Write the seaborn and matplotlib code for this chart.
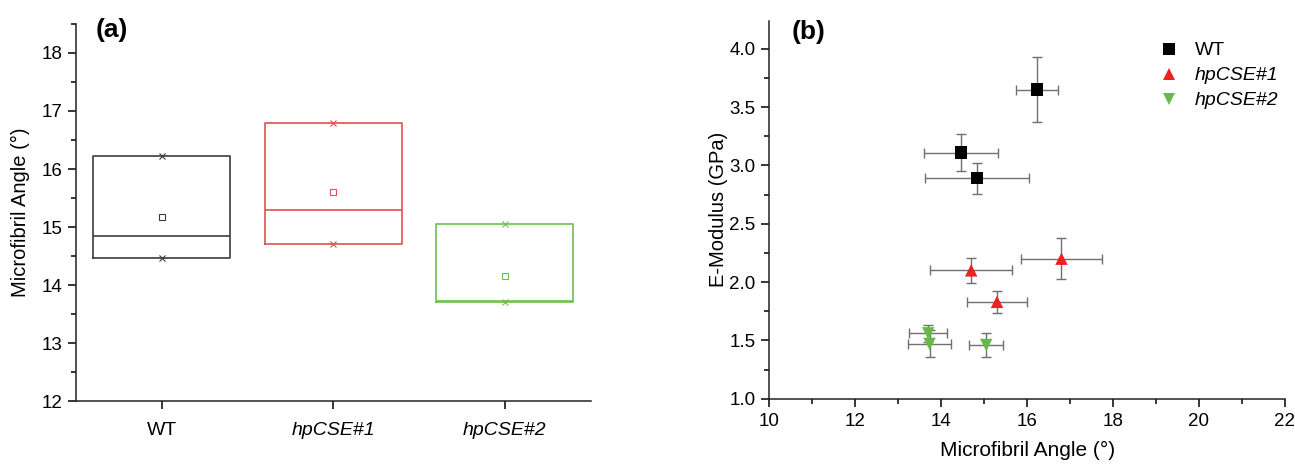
import numpy as np
import pandas as pd
import matplotlib
matplotlib.use("Agg")
import matplotlib.pyplot as plt
import seaborn as sns
from matplotlib.ticker import MultipleLocator

# ---------------- data ----------------
groups = ["WT", "hpCSE#1", "hpCSE#2"]

mfa_wt = [16.23, 14.46, 14.84]
mfa_hp1 = [14.70, 16.80, 15.30]
mfa_hp2 = [13.70, 13.73, 15.05]

mfa_err_wt = [0.49, 0.855, 1.21]
mfa_err_hp1 = [0.95, 0.935, 0.69]
mfa_err_hp2 = [0.44, 0.49, 0.40]

emod_wt = [3.65, 3.11, 2.89]
emod_hp1 = [2.10, 2.20, 1.83]
emod_hp2 = [1.56, 1.47, 1.46]

emod_err_wt = [0.28, 0.157, 0.134]
emod_err_hp1 = [0.108, 0.177, 0.093]
emod_err_hp2 = [0.07, 0.115, 0.10]

box_colors = ["#3c3c3c", "#e05050", "#6cc04a"]
marker_colors = ["#000000", "#ee2020", "#66bb44"]
err_color = "#707070"

sns.set_theme(style="ticks")
plt.rcParams["font.family"] = ["Liberation Sans", "DejaVu Sans"]
plt.rcParams["axes.linewidth"] = 1.1
for k in ["text.color", "axes.labelcolor", "xtick.color", "ytick.color"]:
    plt.rcParams[k] = "black"
plt.rcParams["axes.edgecolor"] = "#222222"

fig = plt.figure(figsize=(12.95, 4.65), dpi=100)
ax1 = fig.add_axes([0.0587, 0.1376, 0.3974, 0.8108])
ax2 = fig.add_axes([0.5940, 0.1426, 0.3982, 0.8129])

TICK_FS = 13.5

# ---------------- panel (a) ----------------
mfa_sets = [mfa_wt, mfa_hp1, mfa_hp2]
stats = []
for g, vals in zip(groups, mfa_sets):
    v = np.array(vals)
    stats.append(dict(label=g, q1=v.min(), q3=v.max(), med=np.median(v),
                      mean=v.mean(), whislo=v.min(), whishi=v.max(), fliers=[]))
positions = [1, 2, 3]
for i, st in enumerate(stats):
    c = box_colors[i]
    ax1.bxp([st], positions=[positions[i]], widths=0.8, showmeans=True,
            showcaps=False, showfliers=False, patch_artist=False,
            boxprops=dict(color=c, linewidth=1.2),
            medianprops=dict(color=c, linewidth=1.2),
            whiskerprops=dict(color=c, linewidth=0),
            meanprops=dict(marker="s", markerfacecolor="none", markeredgecolor=c,
                           markersize=4.5, markeredgewidth=0.8))
    ax1.plot([positions[i]] * 2, [st["whislo"], st["whishi"]], ls="none",
             marker="x", color=c, markersize=4.5, markeredgewidth=0.8)

ax1.set_xlim(0.5, 3.5)
ax1.set_ylim(12, 18.5)
ax1.set_xticks(positions)
ax1.set_xticklabels(groups, fontsize=TICK_FS + 0.5)
for t in ax1.get_xticklabels():
    if t.get_text().startswith("hp"):
        t.set_fontstyle("italic")
ax1.yaxis.set_major_locator(MultipleLocator(1))
ax1.yaxis.set_minor_locator(MultipleLocator(0.5))
ax1.tick_params(axis="both", which="major", length=6, width=1.1, pad=4)
ax1.tick_params(axis="y", labelsize=TICK_FS)
ax1.tick_params(axis="y", which="minor", length=3.5, width=1.1)
ax1.tick_params(axis="x", pad=9)
ax1.set_ylabel("Microfibril Angle (°)", fontsize=14.5, labelpad=8)
sns.despine(ax=ax1)

# ---------------- panel (b) ----------------
df = pd.DataFrame({
    "group": [groups[0]] * 3 + [groups[1]] * 3 + [groups[2]] * 3,
    "mfa": mfa_wt + mfa_hp1 + mfa_hp2,
    "mfa_err": mfa_err_wt + mfa_err_hp1 + mfa_err_hp2,
    "emod": emod_wt + emod_hp1 + emod_hp2,
    "emod_err": emod_err_wt + emod_err_hp1 + emod_err_hp2,
})
ax2.errorbar(df["mfa"], df["emod"], xerr=df["mfa_err"], yerr=df["emod_err"],
             fmt="none", ecolor=err_color, elinewidth=1.0, capsize=3.5,
             capthick=1.0, zorder=1)
sns.scatterplot(data=df, x="mfa", y="emod", hue="group", style="group",
                hue_order=groups, style_order=groups,
                palette=dict(zip(groups, marker_colors)),
                markers=dict(zip(groups, ["s", "^", "v"])),
                s=80, linewidth=0, ax=ax2, zorder=3)
ax2.set_xlim(10, 22)
ax2.set_ylim(1.0, 4.24)
ax2.xaxis.set_major_locator(MultipleLocator(2))
ax2.xaxis.set_minor_locator(MultipleLocator(1))
ax2.yaxis.set_major_locator(MultipleLocator(0.5))
ax2.yaxis.set_minor_locator(MultipleLocator(0.25))
ax2.tick_params(axis="both", which="major", length=6, width=1.1, labelsize=TICK_FS, pad=4)
ax2.tick_params(axis="both", which="minor", length=3.5, width=1.1)
ax2.set_xlabel("Microfibril Angle (°)", fontsize=15, labelpad=8)
ax2.set_ylabel("E-Modulus (GPa)", fontsize=14.5, labelpad=1)
sns.despine(ax=ax2)

leg = ax2.legend(loc="upper left", bbox_to_anchor=(0.722, 0.965), frameon=False,
                 fontsize=14, handletextpad=0.35, labelspacing=0.38,
                 markerscale=1.0, borderaxespad=0)
for t in leg.get_texts():
    if t.get_text().startswith("hp"):
        t.set_fontstyle("italic")

fig.text(0.0865, 0.9355, "(a)", fontsize=19, fontweight="bold", ha="center", va="center")
fig.text(0.624, 0.931, "(b)", fontsize=19, fontweight="bold", ha="center", va="center")

fig.savefig("out.png", dpi=100)
